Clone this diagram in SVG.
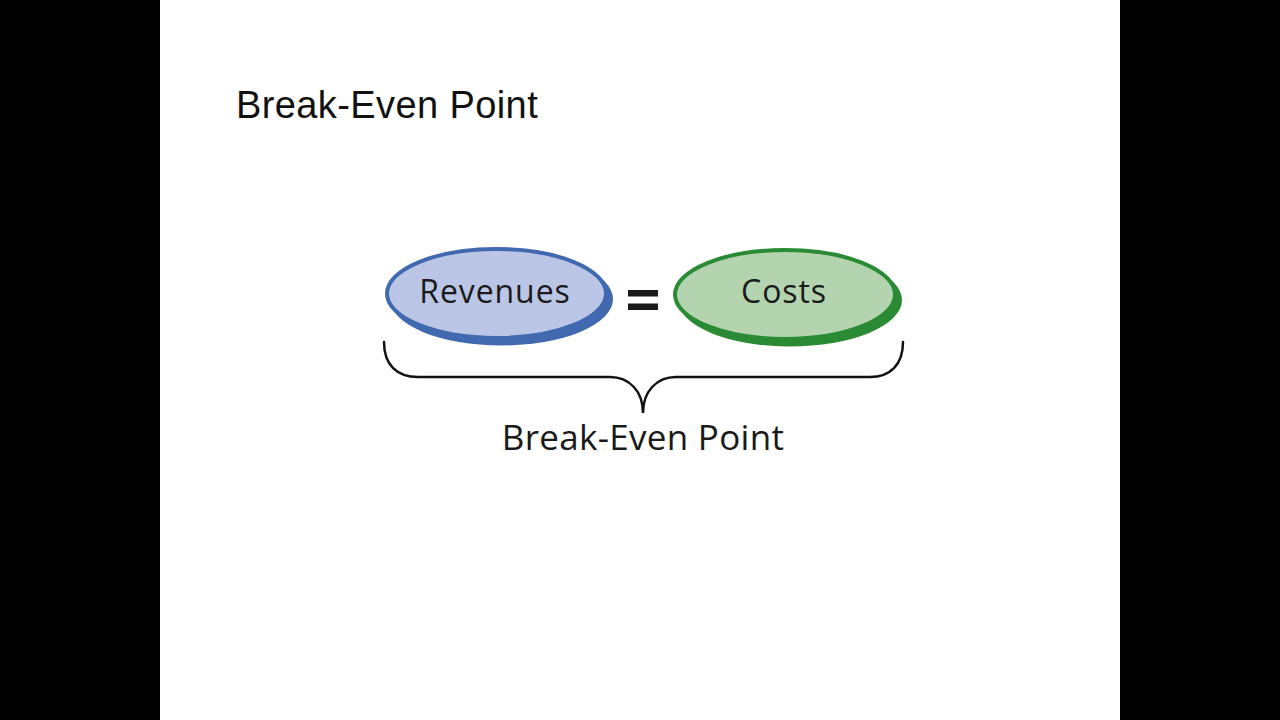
<svg xmlns="http://www.w3.org/2000/svg" width="1280" height="720" viewBox="0 0 1280 720">
  <style>
    .title { font-family: "Liberation Sans", Arial, sans-serif; font-size: 38px; fill: #111; letter-spacing: 0.4px; }
    .lbl { font-family: "Open Sans", "DejaVu Sans", sans-serif; font-size: 32px; fill: #1a1a1a; text-anchor: middle; letter-spacing: 0.9px; }
    .cap { font-family: "Open Sans", "DejaVu Sans", sans-serif; font-size: 35px; fill: #1a1a1a; text-anchor: middle; letter-spacing: 0.3px; }
    .blue-shadow { fill: #4169b0; }
    .blue { fill: #bbc6e6; stroke: #4169b0; stroke-width: 4; }
    .green-shadow { fill: #2b8a34; }
    .green { fill: #b3d4af; stroke: #2b8a34; stroke-width: 4; }
    .brace { fill: none; stroke: #111; stroke-width: 2.5; stroke-linecap: round; }
  </style>
  <rect x="0" y="0" width="1280" height="720" fill="#000"/>
  <rect x="160" y="0" width="960" height="720" fill="#fff"/>
  <text class="title" x="236" y="118">Break-Even Point</text>

  <g id="revenues">
    <ellipse class="blue-shadow" cx="501.5" cy="299" rx="111.5" ry="46.5"/>
    <ellipse class="blue" cx="496.5" cy="293.5" rx="109.5" ry="44.5"/>
    <text class="lbl" x="495" y="303">Revenues</text>
  </g>

  <g id="equals">
    <rect x="628" y="290" width="30" height="6.5" fill="#1a1a1a"/>
    <rect x="628" y="303.5" width="30" height="6.5" fill="#1a1a1a"/>
  </g>

  <g id="costs">
    <ellipse class="green-shadow" cx="790" cy="300" rx="112" ry="46.5"/>
    <ellipse class="green" cx="785" cy="294.5" rx="110" ry="44.5"/>
    <text class="lbl" x="784" y="303">Costs</text>
  </g>

  <g id="connectors">
    <path class="brace" d="M384,342 C384,365 397,377 418,377 L610,377 C629,377 643,391 643,413 C643,391 657,377 676,377 L870,377 C890,377 903,365 903,342"/>
  </g>

  <g id="break-even">
    <text class="cap" x="643" y="450">Break-Even Point</text>
  </g>
</svg>
